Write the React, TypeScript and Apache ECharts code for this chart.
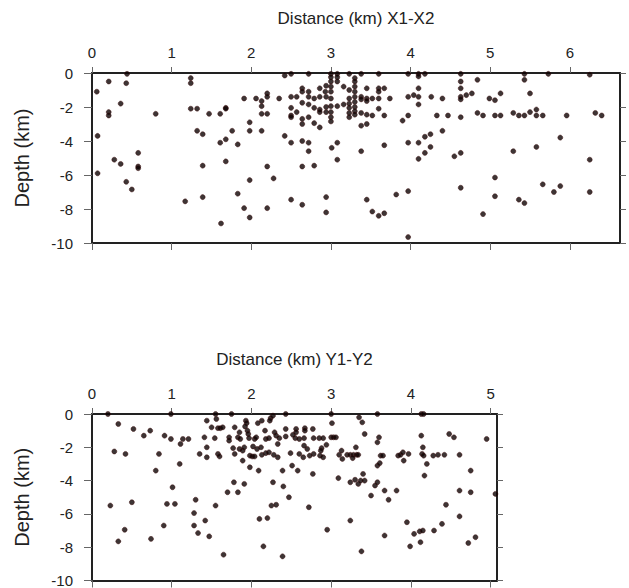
import React, { useEffect, useRef } from "react";
import * as echarts from "echarts";

// Profile X1-X2: [distance km, depth km]
const profileX1X2: number[][] = [
  [0.06,-1.1],[0.21,-0.5],[0.21,-2.3],[0.21,-2.5],[0.44,-0.05],[0.43,-0.6],[0.36,-1.8],[0.07,-3.7],[0.07,-5.9],[0.28,-5.1],[0.36,-5.35],[0.58,-4.7],[0.58,-5.5],[0.58,-5.6],[0.43,-6.4],[0.5,-6.85],[0.8,-2.4],
  [1.24,-0.3],[1.24,-0.6],[1.24,-2.1],[1.32,-2.1],[1.32,-3.4],[1.39,-3.6],[1.39,-5.45],[1.39,-7.3],[1.17,-7.55],[1.47,-2.4],[1.61,-2.4],[1.68,-2.05],[1.68,-2.1],[1.76,-3.4],[1.61,-4.1],[1.68,-3.9],[1.68,-5.2],[1.83,-4.2],[1.83,-7.1],[1.91,-1.5],[1.91,-7.95],[1.62,-8.85],[1.98,-2.9],[1.98,-3.4],[1.98,-6.3],[1.98,-8.5],
  [2.06,-1.5],[2.13,-1.65],[2.13,-1.95],[2.13,-2.4],[2.13,-3.4],[2.2,-1.2],[2.2,-1.4],[2.2,-2.4],[2.2,-5.5],[2.2,-7.95],[2.28,-6.2],[2.35,-1.5],[2.42,-0.15],[2.42,-3.7],[2.5,-0.05],[2.5,-1.4],[2.5,-2.05],[2.5,-2.5],[2.5,-2.6],[2.5,-4.1],[2.5,-7.45],[2.57,-1.4],[2.57,-2.3],
  [2.64,-0.9],[2.64,-1.1],[2.64,-1.75],[2.64,-2.7],[2.64,-3.0],[2.64,-4.0],[2.64,-5.5],[2.64,-7.75],[2.72,-0.05],[2.72,-1.1],[2.72,-1.4],[2.72,-1.85],[2.72,-2.6],[2.72,-4.1],[2.72,-4.6],[2.79,-1.5],[2.79,-2.05],[2.79,-2.95],[2.79,-5.45],
  [2.86,-0.9],[2.86,-1.4],[2.86,-2.15],[2.86,-2.3],[2.86,-3.2],[2.94,-7.3],[2.94,-8.2],[2.94,-0.75],[2.94,-1.4],[2.94,-2.0],[2.94,-2.3],[2.93,-1.1],
  [3.0,-0.05],[3.0,-0.25],[3.0,-0.5],[3.0,-0.8],[3.0,-1.1],[3.0,-1.5],[3.0,-1.95],[3.0,-2.3],[3.0,-2.6],[3.0,-2.85],[3.01,-4.4],[3.08,-0.05],[3.08,-0.25],[3.08,-0.5],[3.08,-4.1],[3.08,-5.1],[3.08,-1.95],[3.16,-0.8],[3.16,-1.85],
  [3.23,-0.05],[3.23,-1.0],[3.23,-1.5],[3.23,-1.8],[3.23,-2.05],[3.23,-2.35],[3.23,-2.6],[3.3,-0.3],[3.3,-0.5],[3.3,-0.8],[3.3,-1.1],[3.3,-1.4],[3.3,-1.7],[3.3,-2.0],[3.3,-2.25],[3.3,-2.45],
  [3.38,-0.05],[3.38,-1.4],[3.38,-1.55],[3.38,-2.35],[3.38,-3.1],[3.45,-3.0],[3.38,-4.6],[3.45,-0.9],[3.45,-1.5],[3.45,-1.65],[3.45,-2.45],[3.45,-7.45],[3.52,-1.5],[3.52,-2.5],[3.52,-8.15],
  [3.6,-0.05],[3.6,-0.9],[3.6,-1.1],[3.6,-1.5],[3.6,-2.1],[3.6,-8.4],[3.67,-0.9],[3.67,-2.5],[3.67,-4.25],[3.67,-8.25],[3.74,-1.5],[3.82,-7.15],[3.9,-2.8],
  [3.97,-0.05],[3.97,-1.4],[3.97,-2.5],[3.97,-4.1],[3.97,-6.95],[3.97,-9.65],[4.04,-1.3],[4.1,-0.05],[4.1,-0.2],[4.1,-0.9],[4.1,-1.4],[4.1,-1.85],[4.1,-4.1],[4.1,-5.05],[4.18,-0.05],[4.18,-4.7],[4.18,-3.75],[4.25,-3.6],[4.25,-4.35],[4.26,-1.4],
  [4.33,-2.5],[4.4,-1.5],[4.4,-3.4],[4.47,-2.5],[4.55,-4.9],[4.63,-0.05],[4.63,-0.5],[4.63,-0.9],[4.63,-1.4],[4.63,-1.55],[4.63,-2.6],[4.63,-4.7],[4.63,-6.75],[4.7,-1.3],[4.77,-1.2],[4.84,-0.4],[4.84,-2.35],[4.91,-2.5],[4.91,-8.3],
  [4.99,-1.5],[5.06,-1.6],[5.06,-2.5],[5.06,-6.15],[5.06,-7.25],[5.13,-1.2],[5.13,-2.5],[5.29,-2.35],[5.29,-4.6],[5.36,-2.5],[5.36,-7.45],[5.43,-0.05],[5.43,-0.4],[5.43,-2.5],[5.43,-7.65],[5.5,-1.2],[5.5,-2.3],[5.58,-2.15],[5.58,-2.5],[5.58,-4.35],
  [5.66,-2.5],[5.66,-6.55],[5.73,-0.05],[5.8,-7.0],[5.88,-3.8],[5.88,-6.65],[5.96,-2.5],[6.25,-0.1],[6.25,-5.1],[6.25,-7.0],[6.32,-2.35],[6.4,-2.5]
];

// Profile Y1-Y2: [distance km, depth km]
const profileY1Y2: number[][] = [
  [0.2,0],[0.33,-0.6],[0.28,-2.25],[0.42,-2.4],[0.23,-5.5],[0.33,-7.65],[0.41,-6.95],[0.5,-5.3],[0.52,-0.9],[0.65,-1.3],[0.73,-1.0],[0.74,-7.5],[0.8,-3.4],[0.84,-2.4],[0.91,-1.3],[0.9,-6.7],[0.94,-5.4],[0.99,0],[0.99,-1.5],[1.01,-4.4],[1.04,-5.4],
  [1.11,-1.8],[1.1,-3.0],[1.14,-1.5],[1.21,-1.5],[1.3,-5.15],[1.28,-5.95],[1.28,-6.7],[1.33,-7.15],[1.35,-2.4],[1.41,-1.4],[1.42,-6.4],[1.44,-2.0],[1.44,-2.6],[1.44,-0.4],[1.47,-7.35],[1.5,-0.8],[1.55,0],[1.55,-5.5],[1.56,-0.3],[1.54,-1.45],
  [1.58,-0.85],[1.61,-0.85],[1.58,-2.4],[1.6,-2.55],[1.64,-0.8],[1.65,-8.45],[1.7,-4.7],[1.72,-1.4],[1.72,-1.6],[1.75,0],[1.78,-4.1],[1.79,-0.8],[1.79,-2.4],[1.77,-2.05],[1.83,-4.7],[1.83,-1.4],[1.85,-1.1],[1.86,-1.5],[1.85,-2.1],[1.89,-2.2],[1.89,-2.8],
  [1.91,-4.2],[1.91,-2.0],[1.93,-0.4],[1.94,-0.55],[1.92,-0.75],[1.95,-1.0],[1.96,-1.2],[1.97,-1.45],[1.98,-3.2],[1.98,-2.5],[2.01,-2.55],[2.04,-2.55],[2.02,-1.95],[2.04,-1.5],[2.06,-1.4],[2.07,-2.1],[2.09,-3.4],[2.08,-0.55],[2.1,-6.3],
  [2.13,-0.4],[2.12,-2.0],[2.13,-2.45],[2.15,-7.95],[2.17,-1.0],[2.18,-1.5],[2.18,-2.35],[2.2,-6.25],[2.22,-2.3],[2.22,-1.45],[2.24,-0.25],[2.23,-0.4],[2.25,-5.5],[2.27,-4.1],[2.27,-0.1],[2.28,-2.45],[2.29,-1.1],[2.31,-1.3],[2.31,-5.45],[2.33,-2.6],[2.33,-1.8],
  [2.35,-1.45],[2.39,-3.4],[2.39,-8.55],[2.4,-4.35],[2.43,0],[2.43,-0.9],[2.43,-1.35],[2.47,-5.0],[2.49,-2.35],[2.51,-3.1],[2.55,-1.45],[2.58,-3.4],[2.56,-0.9],[2.52,-1.25],[2.56,-1.1],[2.6,-1.5],
  [2.67,-0.85],[2.67,-1.0],[2.66,-1.45],[2.66,-1.9],[2.7,-2.1],[2.6,-2.4],[2.65,-2.6],[2.73,-2.5],[2.77,-0.9],[2.78,-1.45],[2.77,-3.6],[2.78,-2.4],[2.72,-5.6],[2.85,-1.45],[2.88,-2.05],[2.87,-2.2],[2.86,-2.5],[2.9,-2.6],[2.9,-1.45],[2.94,-1.85],[2.95,-6.95],
  [3.01,-0.55],[3.0,0],[3.0,-1.4],[3.03,-1.4],[3.06,-1.4],[3.09,-3.85],[3.1,-2.45],[3.13,-2.2],[3.14,-2.7],[3.2,-2.45],[3.24,-2.45],[3.28,-2.45],[3.32,-2.45],[3.34,-2.45],[3.24,-4.1],[3.24,-6.4],[3.27,-2.65],[3.31,-2.0],[3.3,-3.95],[3.34,-4.2],[3.37,-4.0],
  [3.35,-0.2],[3.39,-0.5],[3.4,-3.6],[3.42,-1.2],[3.42,-4.0],[3.38,-8.25],[3.5,-4.9],[3.55,-4.3],[3.58,-4.1],[3.58,0],[3.58,-1.7],[3.6,-1.4],[3.58,-3.1],[3.61,-2.95],[3.62,-2.5],[3.65,-2.5],[3.67,-4.6],[3.67,-7.3],[3.72,-5.15],[3.82,-4.6],
  [3.84,-2.5],[3.87,-2.45],[3.9,-2.3],[3.91,-2.8],[3.97,-2.4],[3.95,-6.5],[3.99,-7.95],[4.04,-7.2],[4.11,-7.05],[4.15,-7.0],[4.12,-7.7],[4.13,0],[4.16,0],[4.13,-1.3],[4.15,-2.0],[4.14,-2.4],[4.16,-2.5],[4.2,-3.0],[4.17,-3.7],
  [4.28,-2.5],[4.34,-2.45],[4.42,-2.45],[4.29,-7.0],[4.39,-6.6],[4.44,-5.45],[4.48,-1.2],[4.54,-1.4],[4.61,-2.45],[4.61,-4.6],[4.61,-6.15],[4.72,-7.75],[4.75,-3.4],[4.75,-4.7],[4.81,-7.4],[4.95,-1.5],[5.06,-4.8]
];

const ticksX1X2 = [0, 1, 2, 3, 4, 5, 6];
const ticksY1Y2 = [0, 1, 2, 3, 4, 5];
const maxX1X2 = 6.63;
const maxY1Y2 = 5.08;
const depthMin = -10;
const depthMax = 0;
const depthStep = 2;
const titleX1X2 = "Distance (km) X1-X2";
const titleY1Y2 = "Distance (km) Y1-Y2";
const depthName = "Depth (km)";

const FONT = "'Liberation Sans', Arial, Helvetica, sans-serif";
const LINE = { color: "#222", width: 2 };
const TICK = { color: "#666", width: 1 };

function xAxes(gridIndex: number, max: number, ticks: number[], name: string) {
  return [
    {
      gridIndex, type: "value", position: "top", min: 0, max, interval: 1,
      name, nameLocation: "middle", nameGap: 46,
      nameTextStyle: { fontSize: 17, color: "#222", fontFamily: FONT },
      axisLine: { show: true, onZero: false, lineStyle: LINE },
      axisTick: { show: true, inside: false, length: 6, lineStyle: TICK, customValues: ticks },
      axisLabel: { show: true, customValues: ticks, fontSize: 15, color: "#222", fontFamily: FONT, margin: 13 },
      splitLine: { show: false },
    },
    {
      gridIndex, type: "value", position: "bottom", min: 0, max, interval: 1,
      axisLine: { show: true, onZero: false, lineStyle: LINE },
      axisTick: { show: true, inside: false, length: 7, lineStyle: TICK, customValues: ticks },
      axisLabel: { show: false },
      splitLine: { show: false },
    },
  ];
}

function yAxes(gridIndex: number) {
  return [
    {
      gridIndex, type: "value", position: "left", min: depthMin, max: depthMax, interval: depthStep,
      name: depthName, nameLocation: "middle", nameGap: 60,
      nameTextStyle: { fontSize: 20, color: "#222", fontFamily: FONT },
      axisLine: { show: true, onZero: false, lineStyle: LINE },
      axisTick: { show: true, inside: false, length: 8, lineStyle: TICK },
      axisLabel: { show: true, fontSize: 15, color: "#222", fontFamily: FONT, margin: 19 },
      splitLine: { show: false },
    },
    {
      gridIndex, type: "value", position: "right", min: depthMin, max: depthMax, interval: depthStep,
      axisLine: { show: true, onZero: false, lineStyle: LINE },
      axisTick: { show: true, inside: false, length: 6, lineStyle: TICK },
      axisLabel: { show: false },
      splitLine: { show: false },
    },
  ];
}

const dotStyle = { color: "#0c0202", borderColor: "#3c0a0a", borderWidth: 0.6 };

export default function App() {
  const ref = useRef<HTMLDivElement>(null);
  useEffect(() => {
    if (!ref.current) return;
    const chart = echarts.init(ref.current, null, { renderer: "svg" });
    chart.setOption({
      animation: false,
      backgroundColor: "#ffffff",
      grid: [
        { left: 92, top: 73, width: 528, height: 170 },
        { left: 92, top: 414, width: 405, height: 170 },
      ],
      xAxis: [...xAxes(0, maxX1X2, ticksX1X2, titleX1X2), ...xAxes(1, maxY1Y2, ticksY1Y2, titleY1Y2)],
      yAxis: [...yAxes(0), ...yAxes(1)],
      series: [
        { type: "scatter", xAxisIndex: 0, yAxisIndex: 0, data: profileX1X2, symbol: "circle", symbolSize: 5, itemStyle: dotStyle, silent: true },
        { type: "scatter", xAxisIndex: 2, yAxisIndex: 2, data: profileY1Y2, symbol: "circle", symbolSize: 5, itemStyle: dotStyle, silent: true },
      ],
    });
    return () => chart.dispose();
  }, []);
  return (
    <div
      ref={ref}
      style={{ position: "absolute", left: 0, top: 0, width: 629, height: 588, background: "#fff" }}
    />
  );
}
